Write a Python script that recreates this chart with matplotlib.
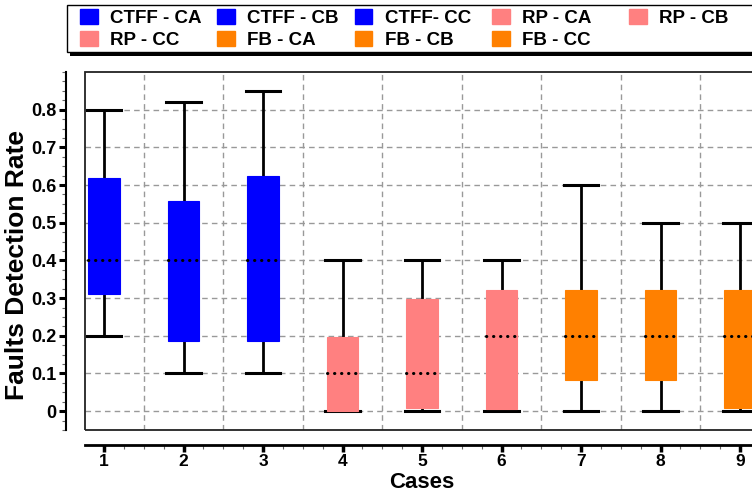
import numpy as np
import matplotlib.pyplot as plt
from matplotlib.patches import Patch, Rectangle
from matplotlib.ticker import MultipleLocator, FixedLocator, FuncFormatter

plt.rcParams['font.family'] = ['Liberation Sans', 'DejaVu Sans']
plt.rcParams['font.weight'] = 'bold'

cases = [1, 2, 3, 4, 5, 6, 7, 8, 9]
whis_lo = [0.20, 0.10, 0.10, 0.00, 0.00, 0.00, 0.00, 0.00, 0.00]
q1 = [0.31, 0.185, 0.185, 0.00, 0.008, 0.005, 0.082, 0.082, 0.008]
median = [0.40, 0.40, 0.40, 0.10, 0.10, 0.20, 0.20, 0.20, 0.20]
q3 = [0.62, 0.557, 0.625, 0.198, 0.298, 0.322, 0.322, 0.322, 0.322]
whis_hi = [0.80, 0.82, 0.85, 0.40, 0.40, 0.40, 0.60, 0.50, 0.50]
labels = ['CTFF - CA', 'CTFF - CB', 'CTFF- CC', 'RP - CA', 'RP - CB',
          'RP - CC', 'FB - CA', 'FB - CB', 'FB - CC']
yticks = [0, 0.1, 0.2, 0.3, 0.4, 0.5, 0.6, 0.7, 0.8]
blue, pink, orange = '#0000FF', '#FF8080', '#FF8000'
colors = [blue] * 3 + [pink] * 3 + [orange] * 3

W, H = 752, 493
fig = plt.figure(figsize=(W / 100, H / 100), dpi=100)
ax = fig.add_axes([85 / W, 1 - 430 / H, 715 / W, 358 / H])

stats = []
for i in range(len(cases)):
    stats.append(dict(med=median[i], q1=q1[i], q3=q3[i],
                      whislo=whis_lo[i], whishi=whis_hi[i], fliers=[]))

bp = ax.bxp(stats, positions=cases, widths=0.4, capwidths=0.44,
            patch_artist=True, showfliers=False,
            whiskerprops=dict(color='black', lw=2),
            capprops=dict(color='black', lw=2.2),
            medianprops=dict(color='black', lw=2.2, linestyle=(0, (0.1, 2.2)),
                             dash_capstyle='round'))
for box, c in zip(bp['boxes'], colors):
    box.set_facecolor(c)
    box.set_edgecolor(c)
    box.set_linewidth(0.8)
    box.set_zorder(3)
for m in bp['medians']:
    m.set_zorder(4)

ax.set_xlim(1 - 19 / 79.5, 1 + 696 / 79.5)
ax.set_ylim(-0.05, 0.9)

# grid
for y in yticks:
    ax.axhline(y, color='#999999', lw=1, ls=(0, (4, 3)), zorder=0)
for x in np.arange(1.5, 10, 1):
    ax.axvline(x, color='#999999', lw=1, ls=(0, (4, 3)), zorder=0)

# frame and detached axes
for s in ['top', 'right']:
    ax.spines[s].set_visible(False)
ax.spines['left'].set_position(('outward', 14))
ax.spines['bottom'].set_position(('outward', 11))
ax.spines['left'].set_linewidth(1.5)
ax.spines['bottom'].set_linewidth(2)
ax.add_patch(Rectangle((0, 0), 1, 1, transform=ax.transAxes, fill=False,
                       edgecolor='#222222', lw=1.3, clip_on=False, zorder=5))

ax.yaxis.set_major_locator(FixedLocator(yticks))
ax.yaxis.set_minor_locator(MultipleLocator(0.025))
ax.yaxis.set_major_formatter(FuncFormatter(lambda v, p: '0' if abs(v) < 1e-9 else f'{v:.1f}'))
ax.set_xticks(cases)
ax.xaxis.set_minor_locator(MultipleLocator(0.25))
ax.tick_params(axis='y', which='major', length=5, width=2.2, labelsize=13, pad=1.5)
ax.tick_params(axis='y', which='minor', length=3, width=0.8, color='#666666')
ax.tick_params(axis='x', which='major', length=5, width=2.5, labelsize=12.5, pad=1)
ax.tick_params(axis='x', which='minor', length=3, width=0.8, color='#666666')

ax.set_ylabel('Faults Detection Rate', fontsize=19, fontweight='bold')
ax.yaxis.set_label_coords(-0.078, 0.46)
ax.set_xlabel('Cases', fontsize=16, fontweight='bold')
ax.xaxis.set_label_coords(0.4706, -0.116)

# legend: box with a black drop shadow, running past the right edge
fig.patches.append(Rectangle((70 / W, 1 - 56 / H), 760 / W, 51 / H, transform=fig.transFigure,
                             facecolor='black', edgecolor='none', zorder=1))
fig.patches.append(Rectangle((67 / W, 1 - 52 / H), 760 / W, 47 / H, transform=fig.transFigure,
                             facecolor='white', edgecolor='black', lw=1, zorder=2))
handles = [Patch(facecolor=c, edgecolor=c) for c in colors]
cols = [[0, 5], [1, 6], [2, 7], [3, 8], [4]]
for k, col in enumerate(cols):
    lg = fig.legend([handles[i] for i in col], [labels[i] for i in col],
                    loc='upper left', bbox_to_anchor=((80 + 137.3 * k) / W, 1 - 9 / H),
                    fontsize=13.5, frameon=False, borderpad=0, borderaxespad=0,
                    labelspacing=0.2, handlelength=0.95, handleheight=0.85,
                    handletextpad=0.65)
    lg.set_zorder(3)

fig.savefig('out.png', dpi=100)
